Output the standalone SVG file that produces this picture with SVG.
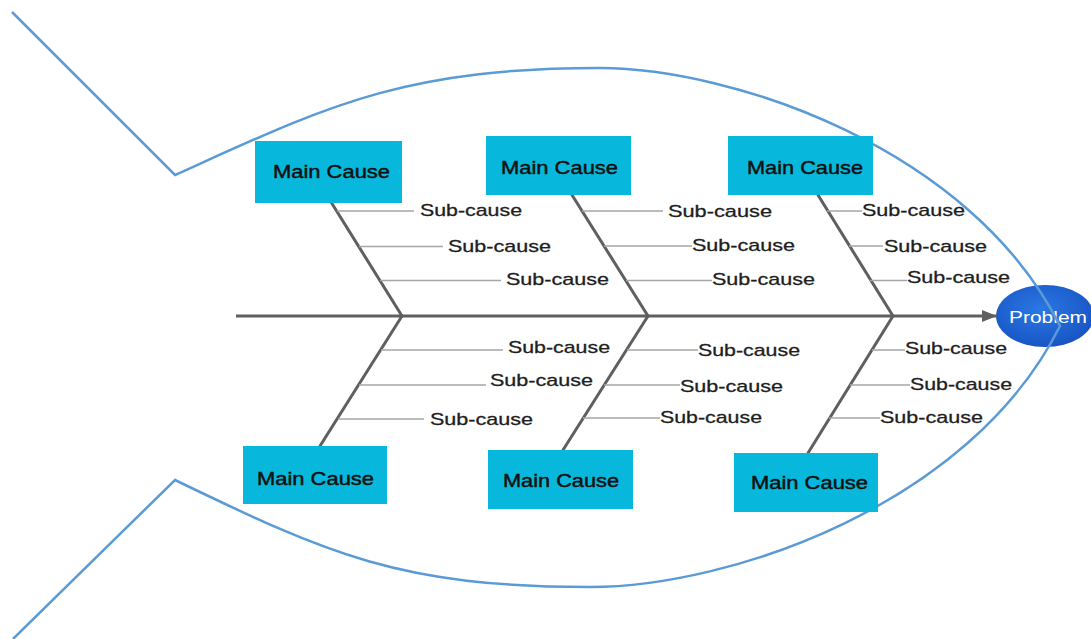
<svg xmlns="http://www.w3.org/2000/svg" width="1091" height="639" viewBox="0 0 1091 639">
  <defs>
    <radialGradient id="problemFill" cx="0.45" cy="0.4" r="0.65">
      <stop offset="0" stop-color="#2b78e4"/>
      <stop offset="1" stop-color="#1652c2"/>
    </radialGradient>
    <marker id="arrowHead" markerUnits="userSpaceOnUse" markerWidth="16" markerHeight="14" refX="15" refY="7" orient="auto">
      <path d="M0,1 L15,7 L0,13 Z" fill="#5f5f5f"/>
    </marker>
    <style>
      .outline { fill: none; stroke: #5b9bd5; stroke-width: 2.5; stroke-linejoin: miter; }
      .spine { fill: none; stroke: #5f5f5f; stroke-width: 3; }
      .bone { fill: none; stroke: #5f5f5f; stroke-width: 3; stroke-linecap: round; }
      .sub { fill: none; stroke: #a6a6a6; stroke-width: 1.6; }
      .cause rect { fill: #07b8dc; }
      .cause text { font-family: "Liberation Sans", Arial, sans-serif; font-size: 17.5px; fill: #111; stroke: #111; stroke-width: 0.45; }
      .label { font-family: "Liberation Sans", Arial, sans-serif; font-size: 17px; fill: #1e1e1e; stroke: #1e1e1e; stroke-width: 0.3; }
      .problem text { font-family: "Liberation Sans", Arial, sans-serif; font-size: 17px; fill: #ffffff; }
    </style>
  </defs>

  <rect x="0" y="0" width="1091" height="639" fill="#ffffff"/>

  <!-- head: problem node -->
  <g id="problem" class="problem">
    <ellipse cx="1045" cy="316" rx="49" ry="31" fill="url(#problemFill)"/>
    <text x="1009" y="323" textLength="78" lengthAdjust="spacingAndGlyphs">Problem</text>
  </g>

  <!-- fish body and tail -->
  <g id="fish-outline">
    <path class="outline" d="M12,12 L175,175
      C325,107.5 400,68 600,68
      C730,68 970.6,147.2 1060,326
      C970.6,504.8 730,587 590,587
      C400,587 328,554 175,480
      L13,639"/>
  </g>

  <!-- spine, bones and sub-cause lines -->
  <g id="connectors">
    <line class="spine" x1="236" y1="316" x2="997" y2="316" marker-end="url(#arrowHead)"/>

    <line class="bone" x1="331" y1="202" x2="402" y2="316"/>
    <line class="bone" x1="572" y1="195" x2="648" y2="316"/>
    <line class="bone" x1="818" y1="195" x2="893" y2="316"/>
    <line class="bone" x1="402" y1="316" x2="320" y2="446"/>
    <line class="bone" x1="648" y1="316" x2="563" y2="450"/>
    <line class="bone" x1="893" y1="316" x2="808" y2="453"/>

    <line class="sub" x1="337" y1="211" x2="414" y2="211"/>
    <line class="sub" x1="359" y1="246.5" x2="443" y2="246.5"/>
    <line class="sub" x1="380" y1="280.5" x2="501" y2="280.5"/>

    <line class="sub" x1="582" y1="211" x2="663" y2="211"/>
    <line class="sub" x1="604" y1="246" x2="692" y2="246"/>
    <line class="sub" x1="626" y1="280.5" x2="712" y2="280.5"/>

    <line class="sub" x1="827" y1="211" x2="862" y2="211"/>
    <line class="sub" x1="849" y1="246" x2="883" y2="246"/>
    <line class="sub" x1="870" y1="280.5" x2="907" y2="280.5"/>

    <line class="sub" x1="381" y1="350" x2="503" y2="350"/>
    <line class="sub" x1="359" y1="385" x2="486" y2="385"/>
    <line class="sub" x1="338" y1="419" x2="424" y2="419"/>

    <line class="sub" x1="627" y1="350" x2="698" y2="350"/>
    <line class="sub" x1="604" y1="385" x2="680" y2="385"/>
    <line class="sub" x1="583" y1="418" x2="660" y2="418"/>

    <line class="sub" x1="872" y1="350" x2="905" y2="350"/>
    <line class="sub" x1="850" y1="385" x2="910" y2="385"/>
    <line class="sub" x1="829" y1="418" x2="880" y2="418"/>
  </g>

  <!-- main causes -->
  <g id="cause-top-1" class="cause">
    <rect x="255" y="141" width="147" height="62"/>
    <text x="273" y="178" textLength="117" lengthAdjust="spacingAndGlyphs">Main Cause</text>
  </g>
  <g id="cause-top-2" class="cause">
    <rect x="486" y="136" width="145" height="59"/>
    <text x="501" y="174" textLength="117" lengthAdjust="spacingAndGlyphs">Main Cause</text>
  </g>
  <g id="cause-top-3" class="cause">
    <rect x="728" y="136" width="145" height="59"/>
    <text x="747" y="174" textLength="116" lengthAdjust="spacingAndGlyphs">Main Cause</text>
  </g>
  <g id="cause-bottom-1" class="cause">
    <rect x="243" y="446" width="144" height="58"/>
    <text x="257" y="485" textLength="117" lengthAdjust="spacingAndGlyphs">Main Cause</text>
  </g>
  <g id="cause-bottom-2" class="cause">
    <rect x="488" y="450" width="145" height="59"/>
    <text x="503" y="486.5" textLength="116" lengthAdjust="spacingAndGlyphs">Main Cause</text>
  </g>
  <g id="cause-bottom-3" class="cause">
    <rect x="734" y="453" width="144" height="59"/>
    <text x="751" y="489" textLength="117" lengthAdjust="spacingAndGlyphs">Main Cause</text>
  </g>

  <!-- sub-cause labels -->
  <g id="subcauses">
    <text class="label" x="420" y="216" textLength="102" lengthAdjust="spacingAndGlyphs">Sub-cause</text>
    <text class="label" x="448" y="251.5" textLength="103" lengthAdjust="spacingAndGlyphs">Sub-cause</text>
    <text class="label" x="506" y="285" textLength="103" lengthAdjust="spacingAndGlyphs">Sub-cause</text>

    <text class="label" x="668" y="217" textLength="104" lengthAdjust="spacingAndGlyphs">Sub-cause</text>
    <text class="label" x="692" y="250.5" textLength="103" lengthAdjust="spacingAndGlyphs">Sub-cause</text>
    <text class="label" x="712" y="285" textLength="103" lengthAdjust="spacingAndGlyphs">Sub-cause</text>

    <text class="label" x="862" y="216" textLength="103" lengthAdjust="spacingAndGlyphs">Sub-cause</text>
    <text class="label" x="884" y="252" textLength="103" lengthAdjust="spacingAndGlyphs">Sub-cause</text>
    <text class="label" x="907" y="282.5" textLength="103" lengthAdjust="spacingAndGlyphs">Sub-cause</text>

    <text class="label" x="508" y="352.5" textLength="102" lengthAdjust="spacingAndGlyphs">Sub-cause</text>
    <text class="label" x="490" y="386" textLength="103" lengthAdjust="spacingAndGlyphs">Sub-cause</text>
    <text class="label" x="430" y="425" textLength="103" lengthAdjust="spacingAndGlyphs">Sub-cause</text>

    <text class="label" x="698" y="356" textLength="102" lengthAdjust="spacingAndGlyphs">Sub-cause</text>
    <text class="label" x="680" y="391.5" textLength="103" lengthAdjust="spacingAndGlyphs">Sub-cause</text>
    <text class="label" x="660" y="423" textLength="102" lengthAdjust="spacingAndGlyphs">Sub-cause</text>

    <text class="label" x="905" y="354" textLength="102" lengthAdjust="spacingAndGlyphs">Sub-cause</text>
    <text class="label" x="910" y="390" textLength="102" lengthAdjust="spacingAndGlyphs">Sub-cause</text>
    <text class="label" x="880" y="422.5" textLength="103" lengthAdjust="spacingAndGlyphs">Sub-cause</text>
  </g>
</svg>
